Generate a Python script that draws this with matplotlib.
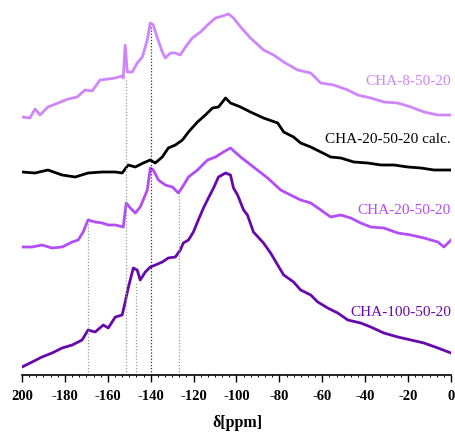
import matplotlib
matplotlib.use("Agg")
import matplotlib.pyplot as plt
import numpy as np

# ---------------- data (ppm, intensity with stacking offset) ----------------
ppm_8 = [-200, -196.3, -193.9, -191.6, -187.9, -183.2, -178.5, -174.3, -170.6, -167.3,
         -163.6, -159.8, -156.5, -153.3, -152.8, -151.9, -150.9, -148.6, -146.3, -143.9,
         -141.6, -140.2, -138.8, -136.9, -134.6, -133.2, -130.8, -128.5, -126.2, -123.8,
         -120.6, -116.8, -113.5, -109.8, -106.5, -103.7, -101.4, -98.1, -93.5, -87.4,
         -82.7, -78.0, -71.5, -65.4, -60.7, -54.7, -48.1, -43.5, -37.4, -31.3,
         -24.8, -18.7, -12.6, -6.1, 0]
int_8 = [258, 257, 266, 260, 268, 272, 276, 278, 285, 284,
         295, 296, 297, 299, 297, 330, 303, 303, 312, 318,
         335, 352, 350, 337, 323, 317, 322, 322, 320, 328,
         337, 343, 350, 357, 359, 361, 357, 348, 337, 325,
         320, 313, 305, 302, 292, 290, 285, 280, 277, 273,
         272, 268, 263, 260, 260]

ppm_calc = [-200, -193.9, -187.9, -181.3, -175.2, -169.2, -162.6, -156.5, -153.3, -150.5,
            -147.2, -143.5, -140.2, -137.9, -134.6, -131.8, -128.5, -125.2, -122.4, -118.2,
            -114.5, -111.2, -108.4, -105.1, -102.8, -98.1, -93.5, -87.4, -80.8, -78.0,
            -73.4, -70.1, -65.4, -60.7, -56.1, -51.4, -45.3, -38.8, -32.7, -26.6,
            -20.1, -14.0, -7.9, 0]
int_calc = [203, 202, 205, 200, 198, 202, 203, 203, 202, 210,
            208, 212, 215, 212, 218, 227, 230, 235, 243, 253,
            260, 267, 268, 277, 272, 268, 263, 257, 252, 243,
            238, 232, 228, 223, 218, 217, 213, 212, 210, 210,
            208, 207, 205, 205]

ppm_20 = [-200, -195.3, -190.7, -186, -181.3, -176.6, -173.8, -171.5, -169.2, -165.9,
          -162.6, -159.8, -156.5, -152.8, -151.4, -149.5, -147.2, -144.9, -143.5, -141.6,
          -140.2, -138.8, -136.4, -133.2, -129.9, -127.1, -125.2, -122.4, -118.2, -113.5,
          -109.8, -106.1, -102.8, -98.1, -92.1, -85.5, -79.4, -74.8, -70.1, -65.4,
          -60.7, -56.1, -51.4, -46.7, -42.1, -37.4, -31.3, -24.8, -18.7, -12.6,
          -6.1, -3.3, 0]
int_20 = [128, 128, 130, 127, 128, 133, 135, 143, 155, 153,
          152, 150, 150, 148, 172, 167, 162, 168, 175, 185,
          207, 205, 195, 190, 188, 182, 188, 198, 205, 215,
          218, 223, 227, 218, 208, 197, 185, 180, 175, 172,
          165, 158, 160, 157, 152, 148, 147, 142, 140, 137,
          133, 128, 135]

ppm_100 = [-200, -195.3, -190.7, -186, -181.3, -176.6, -172, -169.2, -165.9, -162.1,
           -159.8, -156.5, -153.3, -151.9, -150.5, -148.1, -146.3, -144.9, -142.5, -140.2,
           -137.8, -134.6, -131.8, -128.5, -126.2, -124.8, -122.4, -120.1, -117.8, -115.4,
           -113.1, -110.7, -108.4, -105.1, -102.8, -101.4, -99.5, -96.7, -94.9, -92.1,
           -87.4, -84.1, -80.8, -78.0, -73.4, -70.1, -65.4, -62.1, -57.5, -52.8,
           -48.1, -42.1, -37.4, -31.3, -24.8, -18.7, -12.6, -6.1, 0]
int_100 = [8, 13, 18, 22, 27, 30, 35, 45, 43, 50,
           47, 58, 60, 73, 87, 107, 105, 95, 103, 108,
           110, 113, 117, 118, 125, 132, 135, 143, 155, 167,
           177, 187, 198, 202, 200, 187, 180, 165, 160, 143,
           132, 122, 110, 100, 93, 85, 80, 73, 67, 62,
           55, 52, 48, 42, 38, 35, 32, 27, 22]

labels = ["CHA-8-50-20", "CHA-20-50-20 calc.", "CHA-20-50-20", "CHA-100-50-20"]
label_y = [295, 237, 166, 64]

peak_ppm = [-169, -151.5, -147, -140, -127]
peak_top = [157, 297, 93, 348, 182]

xticks = [-200, -180, -160, -140, -120, -100, -80, -60, -40, -20, 0]
xticklabels = ["200", "-180", "-160", "-140", "-120", "-100", "-80", "-60", "-40", "-20", "0"]

# ---------------- style ----------------
colors = ["#cf85fc", "#000000", "#b44cf7", "#6708ad"]
peak_colors = ["#9a9a9a", "#9a9a9a", "#9a9a9a", "#333333", "#9a9a9a"]

plt.rcParams["font.family"] = ["Liberation Serif", "DejaVu Serif"]

fig = plt.figure(figsize=(4.55, 4.33), dpi=100)
ax = fig.add_axes([22 / 455, 58 / 433, 429 / 455, 370 / 433])

series = [(ppm_8, int_8), (ppm_calc, int_calc), (ppm_20, int_20), (ppm_100, int_100)]
for (xs, ys), c in zip(series, colors):
    ax.plot(xs, ys, color=c, lw=2.0, solid_joinstyle="round")

ax.vlines(peak_ppm, 0, peak_top, colors=peak_colors, linestyles=(0, (1, 1.5)), lw=0.9)

for lab, ly, c in zip(labels, label_y, colors):
    ax.text(0, ly, lab, color=c, fontsize=11, ha="right", va="center_baseline")

ax.set_xlim(-200, 0)
ax.set_ylim(0, 370)
ax.set_xticks(xticks)
ax.set_xticklabels(xticklabels, fontweight="bold", fontsize=10.5)
ax.set_xticks(np.arange(-200, 0.01, 20 / 6), minor=True)
ax.tick_params(axis="x", which="major", length=5, width=1, pad=6, direction="out")
ax.tick_params(axis="x", which="minor", length=1.5, width=0.7, direction="out")
ax.set_yticks([])
for s in ["left", "top", "right"]:
    ax.spines[s].set_visible(False)
ax.spines["bottom"].set_linewidth(1.2)

fig.text(237 / 455, 10 / 433, "δ[ppm]", fontsize=11.5, fontweight="bold",
         ha="center", va="center")

fig.savefig("out.png", dpi=100)
